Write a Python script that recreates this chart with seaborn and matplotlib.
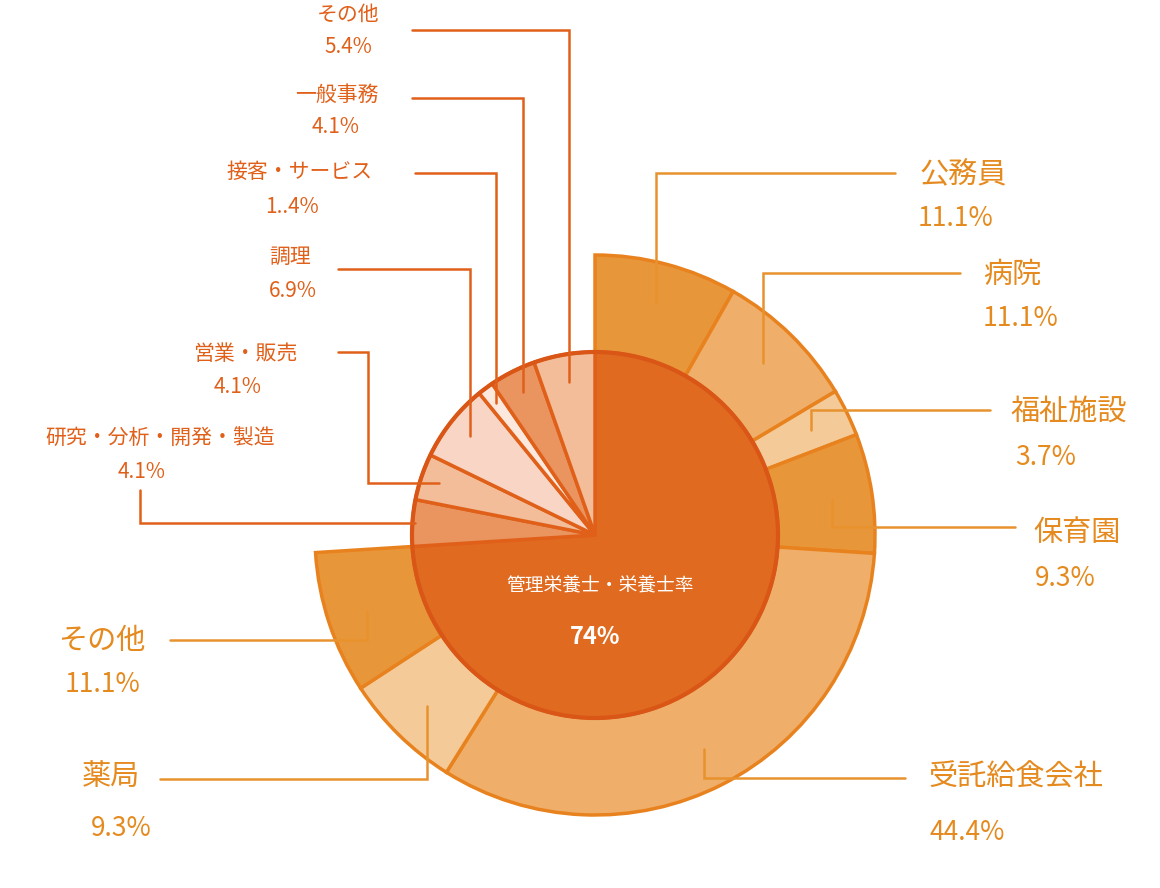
import matplotlib
matplotlib.use("Agg")
import matplotlib.pyplot as plt
import seaborn as sns
import numpy as np

sns.set_theme(style="white")
plt.rcParams['font.family'] = ['Noto Sans CJK JP', 'DejaVu Sans']

# data
main_share = 74
outer_names = ["公務員", "病院", "福祉施設", "保育園", "受託給食会社", "薬局", "その他"]
outer_pct = [11.1, 11.1, 3.7, 9.3, 44.4, 9.3, 11.1]
outer_labels = ["11.1%", "11.1%", "3.7%", "9.3%", "44.4%", "9.3%", "11.1%"]
inner_names = ["研究・分析・開発・製造", "営業・販売", "調理", "接客・サービス", "一般事務", "その他"]
inner_pct = [4.1, 4.1, 6.9, 1.4, 4.1, 5.4]
inner_labels = ["4.1%", "4.1%", "6.9%", "1..4%", "4.1%", "5.4%"]

outer_colors = ["#E8963A", "#EFAF6A", "#F4CB98", "#E8963A", "#EFAF6A", "#F4CB98", "#E8963A"]
inner_colors = ["#EA9460", "#F2BD98", "#F8D5C4", "#FCE8DC", "#EA9460", "#F2BD98"]

W, H = 1160, 888
fig = plt.figure(figsize=(11.6, 8.88), dpi=100)
ax = fig.add_axes([0, 0, 1, 1])
ax.set_xlim(0, W); ax.set_ylim(0, H); ax.set_aspect('equal'); ax.axis('off')
cx, cy = 595, 535
center = (cx, H - cy)
R_out, R_in = 280, 183

# outer ring (share of the 74% sector)
vals = [p * main_share / 100 for p in outer_pct] + [100 - main_share]
cols = outer_colors + ["none"]
wedges, _ = ax.pie(vals, colors=cols, startangle=90, counterclock=False, radius=R_out,
                   center=center, frame=True, wedgeprops=dict(edgecolor="#E8821E", linewidth=2.5))
wedges[-1].set_edgecolor("none")

# inner disk
ivals = [main_share] + inner_pct
icols = ["#E06A20"] + inner_colors
iw, _ = ax.pie(ivals, colors=icols, startangle=90, counterclock=False, radius=R_in,
               center=center, frame=True, wedgeprops=dict(edgecolor="#E0601A", linewidth=2.5))
circ = plt.Circle(center, R_in, fill=False, ec="#D95616", lw=3)
ax.add_patch(circ)
ax.set_xlim(0, W); ax.set_ylim(0, H); ax.axis('off')

ax.text(600, H - 585, "管理栄養士・栄養士率", color="white", fontsize=13.5, ha="center", va="center")
ax.text(595, H - 637, "74%", color="white", fontsize=17, fontweight="bold", ha="center", va="center")

def anchor(theta_deg, r):
    t = np.radians(theta_deg)
    return cx + r * np.sin(t), cy - r * np.cos(t)

def line(pts, color):
    xs = [p[0] for p in pts]; ys = [H - p[1] for p in pts]
    ax.plot(xs, ys, color=color, lw=1.8, solid_joinstyle='miter')

# outer labels: line_y, line_end_x, name pos, pct pos, ha
outer_layout = [
    (173, 895, (920, 175), (918, 218), "left"),
    (273, 960, (983, 275), (983, 318), "left"),
    (410, 990, (1010, 412), (1015, 458), "left"),
    (527, 1015, (1033, 533), (1035, 578), "left"),
    (778, 905, (928, 778), (930, 832), "left"),
    (779, 160, (140, 777), (152, 828), "right"),
    (640, 170, (145, 641), (140, 685), "right"),
]
oc = "#E58A1E"
cum = 0
for i, (n, p, lab) in enumerate(zip(outer_names, outer_pct, outer_labels)):
    span = p * main_share / 100 * 3.6
    mid = cum + span / 2
    cum += span
    axp, ayp = anchor(mid, 240)
    ly, ex, npos, ppos, ha = outer_layout[i]
    line([(axp, ayp), (axp, ly), (ex, ly)], "#E8922E")
    ax.text(npos[0], H - npos[1], n, color=oc, fontsize=21, ha=ha, va="center")
    ax.text(ppos[0], H - ppos[1], lab, color=oc, fontsize=19, ha=ha, va="center")

# inner labels
ic = "#E0601A"
inner_layout = [
    ("vh", (140, 490), 180, (160, 438), (142, 472)),
    ("hvh", (338, 352, 368, 440), 165, (245, 354), (238, 387)),
    ("hv", (338, 269), 160, (290, 257), (293, 291)),
    ("hv", (415, 173), 165, (300, 172), (292, 207)),
    ("hv", (412, 98), 160, (337, 95), (336, 127)),
    ("hv", (412, 30), 155, (348, 15), (348, 47)),
]
cum = main_share * 3.6
for i, (n, p, lab) in enumerate(zip(inner_names, inner_pct, inner_labels)):
    span = p * 3.6
    mid = cum + span / 2
    cum += span
    kind, a, r, npos, ppos = inner_layout[i]
    axp, ayp = anchor(mid, r)
    if kind == "hv":
        line([(a[0], a[1]), (axp, a[1]), (axp, ayp)], ic)
    elif kind == "vh":
        line([(a[0], a[1]), (a[0], ayp), (axp, ayp)], ic)
    else:
        line([(a[0], a[1]), (a[2], a[1]), (a[2], ayp), (axp, ayp)], ic)
    ax.text(npos[0], H - npos[1], n, color=ic, fontsize=15, ha="center", va="center")
    ax.text(ppos[0], H - ppos[1], lab, color=ic, fontsize=15, ha="center", va="center")

fig.savefig("out.png", dpi=100)
